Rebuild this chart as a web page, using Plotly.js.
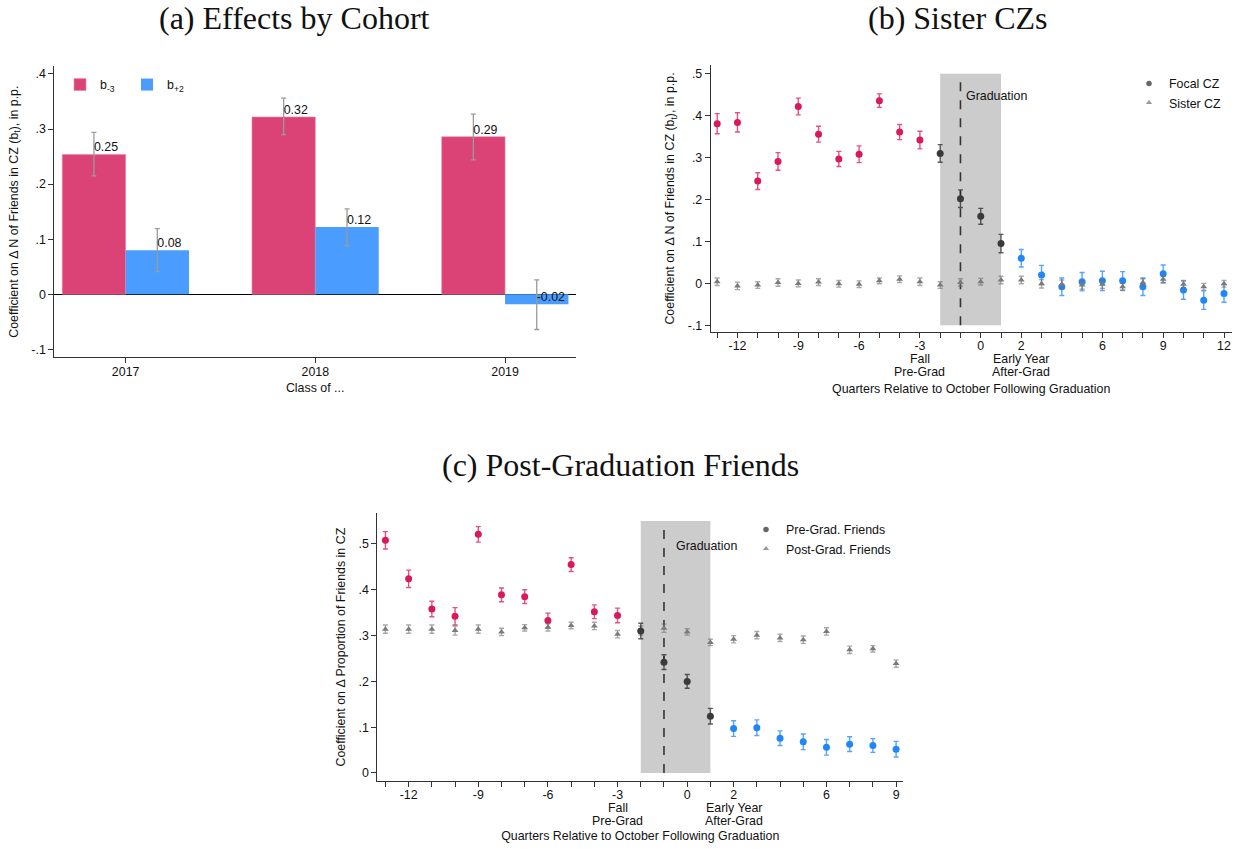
<!DOCTYPE html>
<html>
<head>
<meta charset="utf-8">
<script src="https://cdn.plot.ly/plotly-3.0.1.min.js"></script>
<style>html,body{margin:0;padding:0;background:#fff;}#chart{width:1239px;height:849px;}</style>
</head>
<body>
<div id="chart"></div>
<script>
// ---------------- Panel (a): Effects by Cohort ----------------
const years = [2017, 2018, 2019];
const bMinus3 = [0.254, 0.322, 0.286];
const bMinus3Lo = [0.215, 0.290, 0.244];
const bMinus3Hi = [0.294, 0.356, 0.327];
const bPlus2 = [0.080, 0.122, -0.018];
const bPlus2Lo = [0.041, 0.088, -0.064];
const bPlus2Hi = [0.119, 0.155, 0.026];
const seriesNamesA = ['b<sub>-3</sub>', 'b<sub>+2</sub>'];
const yTickValsA = [-0.1, 0, 0.1, 0.2, 0.3, 0.4];
const yTickTextA = ['-.1', '0', '.1', '.2', '.3', '.4'];

// ---------------- Panel (b): Sister CZs ----------------
const quartersB = [-13,-12,-11,-10,-9,-8,-7,-6,-5,-4,-3,-2,-1,0,1,2,3,4,5,6,7,8,9,10,11,12];
const focalB = [0.381,0.384,0.244,0.291,0.422,0.356,0.297,0.308,0.436,0.361,0.342,0.310,0.202,0.160,0.095,0.060,0.020,-0.008,0.004,0.006,0.006,-0.008,0.023,-0.016,-0.040,-0.024];
const focalBci = [0.024,0.023,0.020,0.021,0.020,0.019,0.018,0.020,0.016,0.018,0.021,0.021,0.021,0.019,0.022,0.021,0.023,0.021,0.022,0.023,0.022,0.021,0.021,0.022,0.022,0.021];
const sisterB = [0.004,-0.006,-0.004,0.002,0.000,0.003,-0.001,-0.002,0.006,0.010,0.004,-0.004,0.002,0.004,0.008,0.008,-0.001,-0.002,-0.004,-0.002,-0.008,0.002,0.010,-0.002,-0.008,-0.001];
const sisterBci = [0.009,0.009,0.008,0.009,0.008,0.008,0.008,0.008,0.007,0.008,0.009,0.008,0.009,0.008,0.009,0.009,0.010,0.010,0.010,0.010,0.009,0.009,0.009,0.009,0.008,0.008];
const xTickValsB = [-12,-9,-6,-3,0,2,6,9,12];
const xTickTextB = ['-12','-9','-6','-3','0','2','6','9','12'];
const yTickValsB = [-0.1, 0, 0.1, 0.2, 0.3, 0.4, 0.5];
const yTickTextB = ['-.1', '0', '.1', '.2', '.3', '.4', '.5'];
const shadeYB = [-0.1, 0.5];

// ---------------- Panel (c): Post-Graduation Friends ----------------
const quartersC = [-13,-12,-11,-10,-9,-8,-7,-6,-5,-4,-3,-2,-1,0,1,2,3,4,5,6,7,8,9];
const preGradC = [0.508,0.424,0.358,0.342,0.521,0.389,0.385,0.333,0.455,0.352,0.344,0.310,0.242,0.200,0.124,0.097,0.099,0.076,0.068,0.056,0.063,0.060,0.052];
const preGradCci = [0.019,0.019,0.017,0.019,0.017,0.015,0.015,0.016,0.015,0.015,0.016,0.017,0.016,0.015,0.017,0.017,0.017,0.016,0.017,0.017,0.016,0.015,0.017];
const postGradC = [0.314,0.314,0.314,0.311,0.314,0.308,0.317,0.318,0.322,0.321,0.303,0.311,0.316,0.308,0.285,0.292,0.301,0.295,0.291,0.309,0.269,0.271,0.239];
const postGradCci = [0.009,0.009,0.009,0.010,0.009,0.008,0.007,0.008,0.007,0.008,0.008,0.010,0.009,0.007,0.007,0.008,0.008,0.008,0.008,0.008,0.008,0.007,0.008];
const xTickValsC = [-12,-9,-6,-3,0,2,6,9];
const xTickTextC = ['-12','-9','-6','-3','0','2','6','9'];
const yTickValsC = [0, 0.1, 0.2, 0.3, 0.4, 0.5];
const yTickTextC = ['0', '.1', '.2', '.3', '.4', '.5'];
const shadeYC = [0, 0.55];

// extra two-line labels under selected quarter ticks (panels b and c)
const subTickQuarters = [-3, 2];
const subTickLines = [['Fall', 'Pre-Grad'], ['Early Year', 'After-Grad']];

// graduation window (quarters) and graduation marker
const gradWindow = [-2, 1];
const gradQuarter = -1;

// ---------------- styling ----------------
const RED_BAR = '#db4377', BLUE_BAR = '#4a9dff';
const RED = '#d81a5a', BLACK = '#3a3a3a', BLUE = '#1f87f7', GRAY = '#7a7a7a';
const AXC = '#333';
const FONT = 'Liberation Sans, Arial, Helvetica, sans-serif';
const SERIF = 'Liberation Serif, Times New Roman, serif';
const FS = 12.4;
const barW = 0.334;

function diff(a, b) { return a.map((v, i) => v - b[i]); }
function pick(arr, idx) { return idx.map(i => arr[i]); }
function idxWhere(qs, f) { return qs.map((q, i) => i).filter(i => f(qs[i])); }

const traces = [];

// Panel (a) bars
traces.push({
  type: 'bar', x: years, y: bMinus3, offset: -barW, width: barW,
  marker: {color: RED_BAR, line: {width: 0.6, color: '#e58aa9'}},
  error_y: {type: 'data', symmetric: false, array: diff(bMinus3Hi, bMinus3), arrayminus: diff(bMinus3, bMinus3Lo), color: '#9a9a9a', thickness: 1.3, width: 2.5},
  name: seriesNamesA[0], xaxis: 'x', yaxis: 'y', legend: 'legend', hoverinfo: 'skip'
});
traces.push({
  type: 'bar', x: years, y: bPlus2, offset: 0, width: barW,
  marker: {color: BLUE_BAR, line: {width: 0}},
  error_y: {type: 'data', symmetric: false, array: diff(bPlus2Hi, bPlus2), arrayminus: diff(bPlus2, bPlus2Lo), color: '#9a9a9a', thickness: 1.3, width: 2.5},
  name: seriesNamesA[1], xaxis: 'x', yaxis: 'y', legend: 'legend', hoverinfo: 'skip'
});
// value labels
traces.push({
  type: 'scatter', mode: 'text', x: years.map(y => y - barW / 2), y: bMinus3,
  text: bMinus3.map(v => v.toFixed(2)), textposition: 'top right',
  textfont: {family: FONT, size: FS, color: '#111'}, showlegend: false, hoverinfo: 'skip', xaxis: 'x', yaxis: 'y'
});
traces.push({
  type: 'scatter', mode: 'text', x: years.map(y => y + barW / 2), y: bPlus2,
  text: bPlus2.map(v => v.toFixed(2)), textposition: 'top right',
  textfont: {family: FONT, size: FS, color: '#111'}, showlegend: false, hoverinfo: 'skip', xaxis: 'x', yaxis: 'y'
});

// helper for event-study segments
function segment(qs, vals, ci, idx, color, ax, symbol, size, errColor) {
  return {
    type: 'scatter', mode: 'markers', x: pick(qs, idx), y: pick(vals, idx),
    error_y: {type: 'data', array: pick(ci, idx), color: errColor, thickness: 1.4, width: 2.5},
    marker: {color: color, size: size, symbol: symbol},
    showlegend: false, xaxis: 'x' + ax, yaxis: 'y' + ax, hoverinfo: 'skip'
  };
}
function legendEntry(name, legendId, symbol, color, ax) {
  return {type: 'scatter', mode: 'markers', x: [null], y: [null], name: name, legend: legendId, showlegend: true,
    marker: {color: color, size: 5.5, symbol: symbol}, xaxis: 'x' + ax, yaxis: 'y' + ax, hoverinfo: 'skip'};
}
const pre = q => q < gradWindow[0];
const mid = q => q >= gradWindow[0] && q <= gradWindow[1];
const post = q => q > gradWindow[1];

// Panel (b)
const allB = quartersB.map((q, i) => i);
traces.push(segment(quartersB, focalB, focalBci, idxWhere(quartersB, pre), RED, 2, 'circle', 7, 'rgba(216,26,90,0.75)'));
traces.push(segment(quartersB, focalB, focalBci, idxWhere(quartersB, mid), BLACK, 2, 'circle', 7, 'rgba(40,40,40,0.75)'));
traces.push(segment(quartersB, focalB, focalBci, idxWhere(quartersB, post), BLUE, 2, 'circle', 7, 'rgba(31,135,247,0.75)'));
traces.push(segment(quartersB, sisterB, sisterBci, allB, GRAY, 2, 'triangle-up', 6, 'rgba(110,110,110,0.6)'));
traces.push(legendEntry('Focal CZ', 'legend2', 'circle', '#666', 2));
traces.push(legendEntry('Sister CZ', 'legend2', 'triangle-up', '#999', 2));

// Panel (c)
const allC = quartersC.map((q, i) => i);
traces.push(segment(quartersC, preGradC, preGradCci, idxWhere(quartersC, pre), RED, 3, 'circle', 7, 'rgba(216,26,90,0.75)'));
traces.push(segment(quartersC, postGradC, postGradCci, allC, GRAY, 3, 'triangle-up', 6, 'rgba(110,110,110,0.6)'));
traces.push(segment(quartersC, preGradC, preGradCci, idxWhere(quartersC, mid), BLACK, 3, 'circle', 7, 'rgba(40,40,40,0.75)'));
traces.push(segment(quartersC, preGradC, preGradCci, idxWhere(quartersC, post), BLUE, 3, 'circle', 7, 'rgba(31,135,247,0.75)'));
traces.push(legendEntry('Pre-Grad. Friends', 'legend3', 'circle', '#666', 3));
traces.push(legendEntry('Post-Grad. Friends', 'legend3', 'triangle-up', '#999', 3));

function px2x(p) { return p / 1239; }
function py2y(p) { return 1 - p / 849; }

const baseAxis = {
  showgrid: false, zeroline: false, showline: true, linecolor: AXC, linewidth: 1,
  ticks: 'outside', ticklen: 5, tickwidth: 1, tickcolor: AXC, tickfont: {family: FONT, size: FS, color: '#111'},
  fixedrange: true
};
function titleObj(t, standoff) { return {text: t, font: {family: FONT, size: FS, color: '#111'}, standoff: standoff}; }

const axisBottomB = 332, axisBottomC = 781;

const subLabelAnnots = [];
[['x2', axisBottomB], ['x3', axisBottomC]].forEach(([xr, bottom]) => {
  subTickQuarters.forEach((q, k) => {
    subTickLines[k].forEach((line, j) => {
      subLabelAnnots.push({text: line, xref: xr, yref: 'paper', x: q, y: py2y(bottom + 27 + j * 13),
        xanchor: 'center', yanchor: 'middle', showarrow: false, borderpad: 0, font: {family: FONT, size: FS, color: '#111'}});
    });
  });
});

const layout = {
  width: 1239, height: 849, margin: {l: 0, r: 0, t: 0, b: 0},
  paper_bgcolor: '#fff', plot_bgcolor: 'rgba(0,0,0,0)',
  font: {family: FONT, size: FS, color: '#111'},
  barmode: 'overlay', showlegend: true,
  xaxis: Object.assign({}, baseAxis, {
    domain: [px2x(54.3), px2x(576)], range: [2016.624, 2019.374], anchor: 'y',
    tickmode: 'array', tickvals: years, ticktext: years.map(String), ticklabelstandoff: -2,
    title: titleObj('Class of ...', 5)
  }),
  yaxis: Object.assign({}, baseAxis, {
    domain: [py2y(357.3), py2y(66)], range: [-0.1145, 0.4145], anchor: 'x',
    tickmode: 'array', tickvals: yTickValsA, ticktext: yTickTextA,
    zeroline: true, zerolinecolor: '#000', zerolinewidth: 1.2,
    title: titleObj('Coefficient on Δ N of Friends in CZ (b<sub>t</sub>), in p.p.', 10)
  }),
  xaxis2: Object.assign({}, baseAxis, {
    domain: [px2x(710.7), px2x(1231.7)], range: [-13.32, 12.38], anchor: 'y2',
    tickmode: 'array', tickvals: xTickValsB, ticktext: xTickTextB, ticklabelstandoff: -3,
    minor: {tickmode: 'array', tickvals: quartersB, ticks: 'outside', ticklen: 5, tickcolor: AXC, tickwidth: 1},
    title: titleObj('Quarters Relative to October Following Graduation', 32)
  }),
  yaxis2: Object.assign({}, baseAxis, {
    domain: [py2y(axisBottomB), py2y(65)], range: [-0.116, 0.521], anchor: 'x2',
    tickmode: 'array', tickvals: yTickValsB, ticktext: yTickTextB,
    title: titleObj('Coefficient on Δ N of Friends in CZ (b<sub>t</sub>), in p.p.', 10)
  }),
  xaxis3: Object.assign({}, baseAxis, {
    domain: [px2x(377.3), px2x(903.3)], range: [-13.35, 9.31], anchor: 'y3',
    tickmode: 'array', tickvals: xTickValsC, ticktext: xTickTextC, ticklabelstandoff: -3,
    minor: {tickmode: 'array', tickvals: quartersC, ticks: 'outside', ticklen: 5, tickcolor: AXC, tickwidth: 1},
    title: titleObj('Quarters Relative to October Following Graduation', 30)
  }),
  yaxis3: Object.assign({}, baseAxis, {
    domain: [py2y(axisBottomC), py2y(513.3)], range: [-0.0175, 0.567], anchor: 'x3',
    tickmode: 'array', tickvals: yTickValsC, ticktext: yTickTextC,
    title: titleObj('Coefficient on Δ Proportion of Friends in CZ', 10)
  }),
  legend: {
    x: px2x(60), y: py2y(70), xanchor: 'left', yanchor: 'top', orientation: 'h',
    bgcolor: 'rgba(0,0,0,0)', font: {family: FONT, size: FS, color: '#111'}, itemwidth: 30, entrywidth: 22
  },
  legend2: {
    x: px2x(1129), y: py2y(69), xanchor: 'left', yanchor: 'top',
    bgcolor: 'rgba(0,0,0,0)', font: {family: FONT, size: FS, color: '#111'}, itemwidth: 30, tracegroupgap: 0
  },
  legend3: {
    x: px2x(746), y: py2y(515), xanchor: 'left', yanchor: 'top',
    bgcolor: 'rgba(0,0,0,0)', font: {family: FONT, size: FS, color: '#111'}, itemwidth: 30, tracegroupgap: 0
  },
  shapes: [
    {type: 'rect', xref: 'x2', yref: 'y2', x0: gradWindow[0], x1: gradWindow[1], y0: shadeYB[0], y1: shadeYB[1], fillcolor: '#cccccc', line: {width: 0}, layer: 'below'},
    {type: 'line', xref: 'x2', yref: 'y2', x0: gradQuarter, x1: gradQuarter, y0: shadeYB[0], y1: shadeYB[1], line: {color: '#333', width: 1.6, dash: 'dash'}, layer: 'below'},
    {type: 'rect', xref: 'x3', yref: 'y3', x0: gradWindow[0], x1: gradWindow[1], y0: shadeYC[0], y1: shadeYC[1], fillcolor: '#cccccc', line: {width: 0}, layer: 'below'},
    {type: 'line', xref: 'x3', yref: 'y3', x0: gradQuarter, x1: gradQuarter, y0: shadeYC[0], y1: shadeYC[1], line: {color: '#333', width: 1.6, dash: 'dash'}, layer: 'below'}
  ],
  annotations: [
    {text: '(a) Effects by Cohort', xref: 'paper', yref: 'paper', x: px2x(294), y: py2y(18), xanchor: 'center', yanchor: 'middle', showarrow: false, font: {family: SERIF, size: 32, color: '#111'}},
    {text: '(b) Sister CZs', xref: 'paper', yref: 'paper', x: px2x(958), y: py2y(18), xanchor: 'center', yanchor: 'middle', showarrow: false, font: {family: SERIF, size: 32, color: '#111'}},
    {text: '(c) Post-Graduation Friends', xref: 'paper', yref: 'paper', x: px2x(620), y: py2y(465), xanchor: 'center', yanchor: 'middle', showarrow: false, font: {family: SERIF, size: 32, color: '#111'}},
    {text: 'Graduation', xref: 'x2', yref: 'y2', x: gradQuarter, y: 0.448, xanchor: 'left', yanchor: 'middle', xshift: 4, showarrow: false, font: {family: FONT, size: FS, color: '#111'}},
    {text: 'Graduation', xref: 'x3', yref: 'y3', x: gradQuarter, y: 0.496, xanchor: 'left', yanchor: 'middle', xshift: 10, showarrow: false, font: {family: FONT, size: FS, color: '#111'}}
  ].concat(subLabelAnnots)
};

Plotly.newPlot('chart', traces, layout, {displayModeBar: false, staticPlot: true});
</script>
</body>
</html>
